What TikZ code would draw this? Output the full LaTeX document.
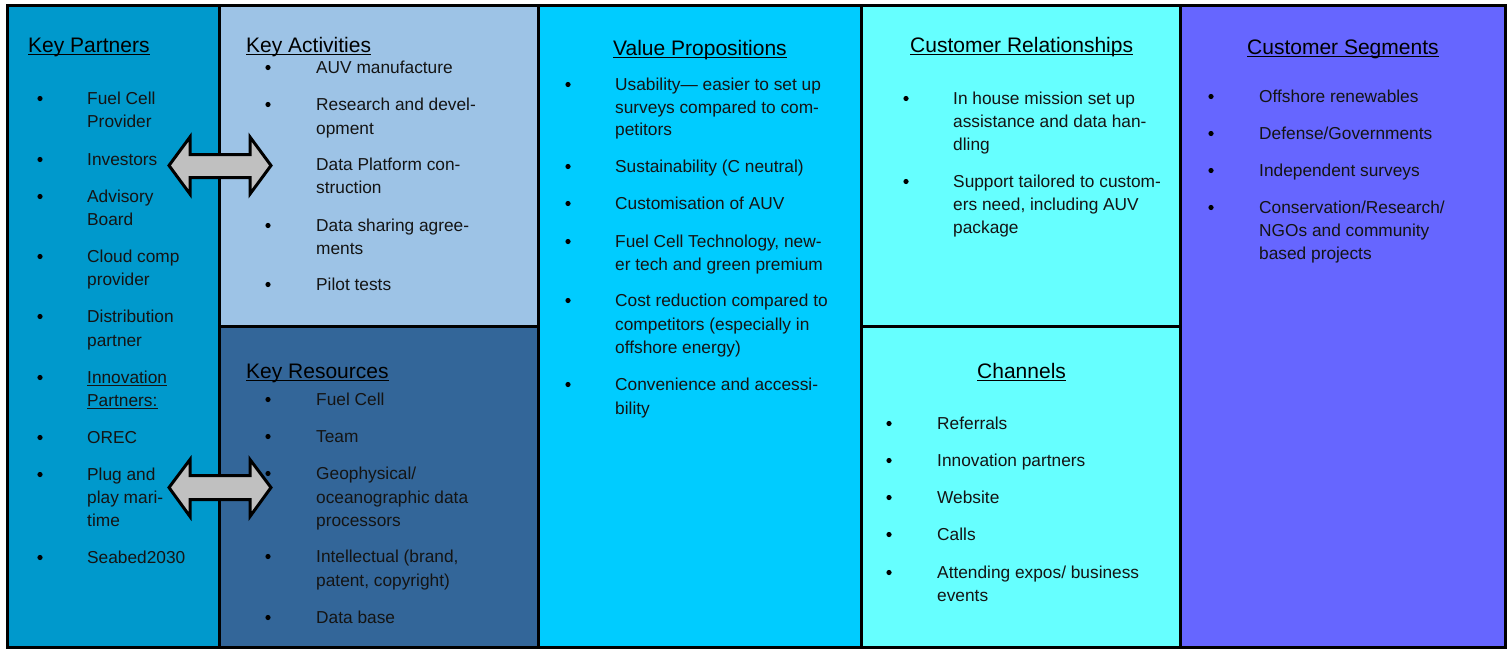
\documentclass[tikz,border=0pt]{standalone}
\usepackage{fontspec}
\setmainfont{Liberation Sans}
\definecolor{kpc}{HTML}{0099CC}
\definecolor{kac}{HTML}{9DC3E6}
\definecolor{krc}{HTML}{336699}
\definecolor{vpc}{HTML}{00CCFF}
\definecolor{crc}{HTML}{66FFFF}
\definecolor{csc}{HTML}{6666FF}
\definecolor{txt}{HTML}{141414}
\definecolor{arrowgray}{HTML}{C0C0C0}
\tikzset{
  frameline/.style={line width=3pt, draw=black},
  bodytext/.style={font=\fontsize{17.3}{20}\selectfont, text=txt, inner sep=0pt, anchor=base west},
  bulnode/.style={circle, fill=black, inner sep=0pt, minimum size=5.2pt},
  headtext/.style={font=\fontsize{21}{24}\selectfont, text=black, inner sep=0pt, anchor=base west},
  uline/.style={line width=1.4pt, draw=black},
  thinuline/.style={line width=1pt, draw=txt},
  blockarrow/.style={fill=arrowgray, draw=black, line width=3pt, line join=miter}
}
\newcommand\tl[4]{\node[bodytext] (#1) at (#2,#3) {#4};}
\newcommand\tb[3]{\node[bulnode] (#1) at (#2,#3-5.5) {};}
\newcommand\hd[4]{\node[headtext] (#1) at (#2,#3) {#4};
  \draw[uline] ([yshift=-2.5pt]#1.base west) -- ([yshift=-2.5pt]#1.base east);}
\begin{document}
\begin{tikzpicture}[x=1pt,y=-1pt]
\useasboundingbox (0,0) rectangle (1512,649);
\fill[white] (0,0) rectangle (1512,649);
% panels
\fill[kpc] (7.5,5.5) rectangle (219,647.5);
\fill[kac] (219,5.5) rectangle (538,326.5);
\fill[krc] (219,326.5) rectangle (538,647.5);
\fill[vpc] (538,5.5) rectangle (861.5,647.5);
\fill[crc] (861.5,5.5) rectangle (1180,647.5);
\fill[csc] (1180,5.5) rectangle (1505,647.5);
\draw[frameline] (7.5,5.5) rectangle (1505,647.5);
\draw[frameline] (219,5.5) -- (219,647.5);
\draw[frameline] (538,5.5) -- (538,647.5);
\draw[frameline] (861.5,5.5) -- (861.5,647.5);
\draw[frameline] (1180,5.5) -- (1180,647.5);
\draw[frameline] (219,326.5) -- (538,326.5);
\draw[frameline] (861.5,326.5) -- (1180,326.5);

% Key Partners
\hd{hkp}{28}{52}{Key Partners}
\tb{bkp1}{40}{104}\tl{kp1a}{87}{104}{Fuel Cell}\tl{kp1b}{87}{127}{Provider}
\tb{bkp2}{40}{165}\tl{kp2a}{87}{165}{Investors}
\tb{bkp3}{40}{202}\tl{kp3a}{87}{202}{Advisory}\tl{kp3b}{87}{225}{Board}
\tb{bkp4}{40}{262}\tl{kp4a}{87}{262}{Cloud comp}\tl{kp4b}{87}{285}{provider}
\tb{bkp5}{40}{322}\tl{kp5a}{87}{322}{Distribution}\tl{kp5b}{87}{346}{partner}
\tb{bkp6}{40}{383}\tl{kp6a}{87}{383}{Innovation}\tl{kp6b}{87}{406}{Partners:}
\draw[thinuline] ([yshift=-2.5pt]kp6a.base west) -- ([yshift=-2.5pt]kp6a.base east);
\draw[thinuline] ([yshift=-2.5pt]kp6b.base west) -- ([yshift=-2.5pt]kp6b.base east);
\tb{bkp7}{40}{443}\tl{kp7a}{87}{443}{OREC}
\tb{bkp8}{40}{480}\tl{kp8a}{87}{480}{Plug and}\tl{kp8b}{87}{503}{play mari-}\tl{kp8c}{87}{526}{time}
\tb{bkp9}{40}{563}\tl{kp9a}{87}{563}{Seabed2030}

% Key Activities
\hd{hka}{246}{52}{Key Activities}
\tb{bka1}{268}{73}\tl{ka1a}{316}{73}{AUV manufacture}
\tb{bka2}{268}{110}\tl{ka2a}{316}{110}{Research and devel-}\tl{ka2b}{316}{134}{opment}
\tb{bka3}{268}{170}\tl{ka3a}{316}{170}{Data Platform con-}\tl{ka3b}{316}{193}{struction}
\tb{bka4}{268}{231}\tl{ka4a}{316}{231}{Data sharing agree-}\tl{ka4b}{316}{254}{ments}
\tb{bka5}{268}{290}\tl{ka5a}{316}{290}{Pilot tests}

% Key Resources
\hd{hkr}{246}{378}{Key Resources}
\tb{bkr1}{268}{405}\tl{kr1a}{316}{405}{Fuel Cell}
\tb{bkr2}{268}{442}\tl{kr2a}{316}{442}{Team}
\tb{bkr3}{268}{479}\tl{kr3a}{316}{479}{Geophysical/}\tl{kr3b}{316}{503}{oceanographic data}\tl{kr3c}{316}{526}{processors}
\tb{bkr4}{268}{562}\tl{kr4a}{316}{562}{Intellectual (brand,}\tl{kr4b}{316}{586}{patent, copyright)}
\tb{bkr5}{268}{623}\tl{kr5a}{316}{623}{Data base}

% Value Propositions
\hd{hvp}{613}{55}{Value Propositions}
\tb{bvp1}{568}{90}\tl{vp1a}{615}{90}{Usability— easier to set up}\tl{vp1b}{615}{113}{surveys compared to com-}\tl{vp1c}{615}{135}{petitors}
\tb{bvp2}{568}{172}\tl{vp2a}{615}{172}{Sustainability (C neutral)}
\tb{bvp3}{568}{209}\tl{vp3a}{615}{209}{Customisation of AUV}
\tb{bvp4}{568}{247}\tl{vp4a}{615}{247}{Fuel Cell Technology, new-}\tl{vp4b}{615}{270}{er tech and green premium}
\tb{bvp5}{568}{306}\tl{vp5a}{615}{306}{Cost reduction compared to}\tl{vp5b}{615}{330}{competitors (especially in}\tl{vp5c}{615}{353}{offshore energy)}
\tb{bvp6}{568}{390}\tl{vp6a}{615}{390}{Convenience and accessi-}\tl{vp6b}{615}{414}{bility}

% Customer Relationships
\hd{hcr}{910}{52}{Customer Relationships}
\tb{bcr1}{906}{104}\tl{cr1a}{953}{104}{In house mission set up}\tl{cr1b}{953}{127}{assistance and data han-}\tl{cr1c}{953}{150}{dling}
\tb{bcr2}{906}{187}\tl{cr2a}{953}{187}{Support tailored to custom-}\tl{cr2b}{953}{210}{ers need, including AUV}\tl{cr2c}{953}{233}{package}

% Channels
\hd{hch}{977}{378}{Channels}
\tb{bch1}{889}{429}\tl{ch1a}{937}{429}{Referrals}
\tb{bch2}{889}{466}\tl{ch2a}{937}{466}{Innovation partners}
\tb{bch3}{889}{503}\tl{ch3a}{937}{503}{Website}
\tb{bch4}{889}{540}\tl{ch4a}{937}{540}{Calls}
\tb{bch5}{889}{578}\tl{ch5a}{937}{578}{Attending expos/ business}\tl{ch5b}{937}{601}{events}

% Customer Segments
\hd{hcs}{1247}{54}{Customer Segments}
\tb{bcs1}{1211}{102}\tl{cs1a}{1259}{102}{Offshore renewables}
\tb{bcs2}{1211}{139}\tl{cs2a}{1259}{139}{Defense/Governments}
\tb{bcs3}{1211}{176}\tl{cs3a}{1259}{176}{Independent surveys}
\tb{bcs4}{1211}{213}\tl{cs4a}{1259}{213}{Conservation/Research/}\tl{cs4b}{1259}{236}{NGOs and community}\tl{cs4c}{1259}{259}{based projects}

% block arrows
\draw[blockarrow] (169,165.5) -- (190,137) -- (190,154.5) -- (250,154.5) -- (250,137) -- (271,165.5)
  -- (250,194) -- (250,177.5) -- (190,177.5) -- (190,194) -- cycle;
\draw[blockarrow] (169,487.5) -- (190,459.5) -- (190,475.5) -- (250,475.5) -- (250,459.5) -- (271,487.5)
  -- (250,516.5) -- (250,499.5) -- (190,499.5) -- (190,516.5) -- cycle;
\end{tikzpicture}
\end{document}
